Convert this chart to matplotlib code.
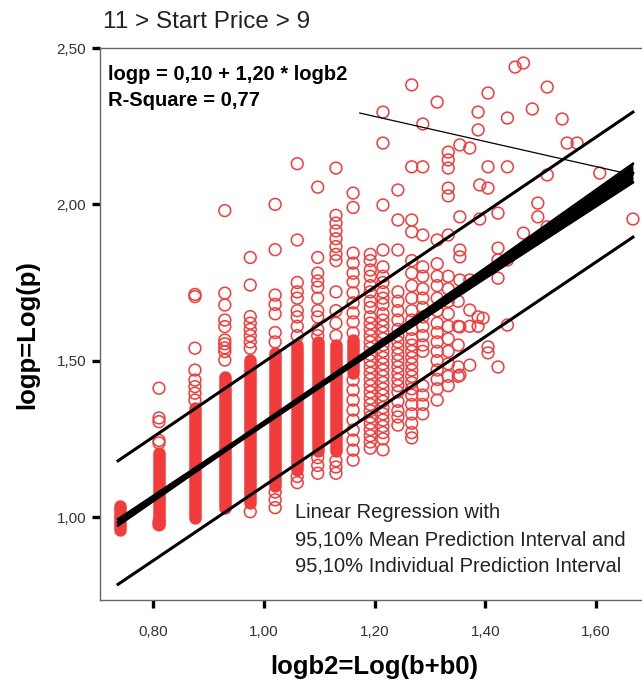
import numpy as np
import matplotlib
matplotlib.use("Agg")
import matplotlib.pyplot as plt
from matplotlib.ticker import FuncFormatter

plt.rcParams["font.family"] = ["Liberation Sans", "DejaVu Sans"]

RED = "#f23b3b"

# x position of each stacked column of observations
col_x = [0.739, 0.810, 0.875, 0.929, 0.975, 1.020, 1.060, 1.097, 1.130, 1.161,
         1.192, 1.215, 1.242, 1.267, 1.287, 1.313, 1.333, 1.351]
# range where the circles overlap into a solid band (None = no solid part)
col_dense_lo = [0.957, 0.978, 0.997, 1.030, 1.045, 1.100, 1.150, 1.210, 1.210, 1.461,
                None, None, None, None, None, None, None, None]
col_dense_hi = [1.034, 1.205, 1.349, 1.449, 1.502, 1.525, 1.550, 1.560, 1.550, 1.566,
                None, None, None, None, None, None, None, None]
# single circles in each column
col_rings = [
    [],
    [1.412, 1.317, 1.305, 1.245, 1.237, 0.985, 0.975],
    [1.712, 1.705, 1.540, 1.470, 1.438, 1.417, 1.396, 1.374],
    [1.980, 1.716, 1.678, 1.630, 1.609, 1.566, 1.554, 1.541, 1.529, 1.502],
    [1.830, 1.742, 1.641, 1.620, 1.600, 1.580, 1.560, 1.540, 1.017],
    [2.000, 1.855, 1.710, 1.680, 1.650, 1.590, 1.560, 1.080, 1.055, 1.030],
    [2.130, 1.886, 1.750, 1.720, 1.700, 1.660, 1.640, 1.610, 1.580, 1.130, 1.110],
    [2.055, 1.830, 1.780, 1.755, 1.735, 1.700, 1.660, 1.640, 1.600, 1.580,
     1.190, 1.165, 1.140],
    [2.116, 1.965, 1.940, 1.915, 1.890, 1.865, 1.840, 1.820, 1.720, 1.660,
     1.620, 1.580, 1.180, 1.160, 1.140],
    [2.036, 1.990, 1.844, 1.812, 1.780, 1.752, 1.717, 1.685, 1.653, 1.624,
     1.589, 1.438, 1.406, 1.374, 1.342, 1.310, 1.278, 1.246, 1.214, 1.182],
    [1.840, 1.820, 1.790, 1.770, 1.740, 1.720, 1.690, 1.670, 1.640, 1.620,
     1.600, 1.580, 1.560, 1.540, 1.520, 1.500, 1.480, 1.460, 1.440, 1.420,
     1.400, 1.380, 1.360, 1.340, 1.320, 1.300, 1.280, 1.260, 1.240, 1.220],
    [1.800, 1.770, 1.750, 1.720, 1.700, 1.680, 1.650, 1.630, 1.610, 1.590,
     1.570, 1.550, 1.530, 1.510, 1.490, 1.470, 1.450, 1.430, 1.410, 1.390,
     1.370, 1.350, 1.330, 1.310, 1.290, 1.270, 1.250, 1.215],
    [1.720, 1.690, 1.660, 1.630, 1.600, 1.580, 1.560, 1.540, 1.520, 1.500,
     1.480, 1.460, 1.440, 1.420, 1.400, 1.370, 1.340, 1.320, 1.294],
    [1.820, 1.780, 1.740, 1.700, 1.660, 1.630, 1.600, 1.570, 1.550, 1.530,
     1.510, 1.490, 1.470, 1.450, 1.430, 1.410, 1.390, 1.360, 1.330, 1.300,
     1.270, 1.253],
    [1.800, 1.770, 1.730, 1.700, 1.670, 1.640, 1.610, 1.580, 1.550, 1.530,
     1.420, 1.390, 1.360, 1.330],
    [1.810, 1.770, 1.740, 1.700, 1.660, 1.620, 1.590, 1.560, 1.530, 1.500,
     1.470, 1.440, 1.410, 1.374],
    [1.770, 1.730, 1.690, 1.650, 1.610, 1.570, 1.530, 1.490, 1.450, 1.420],
    [1.690, 1.610, 1.550, 1.480, 1.450],
]

# scattered observations away from the columns
pt_x = [1.454, 1.469, 1.512, 1.405, 1.267, 1.313, 1.215, 1.387, 1.485, 1.440,
        1.539, 1.287, 1.387, 1.215, 1.354, 1.372, 1.333, 1.333, 1.333, 1.548,
        1.566, 1.267, 1.287, 1.405, 1.440, 1.512, 1.607, 1.242, 1.333, 1.333,
        1.390, 1.405, 1.215, 1.495, 1.495, 1.512, 1.667, 1.242, 1.267, 1.267,
        1.287, 1.313, 1.333, 1.354, 1.390, 1.423, 1.469, 1.423, 1.423, 1.440,
        1.354, 1.354, 1.372, 1.423, 1.354, 1.372, 1.387, 1.396, 1.372, 1.387,
        1.354, 1.440, 1.405, 1.405, 1.372, 1.423, 1.354, 1.215, 1.242]
pt_y = [2.439, 2.452, 2.375, 2.356, 2.382, 2.327, 2.295, 2.295, 2.305, 2.276,
        2.273, 2.257, 2.238, 2.196, 2.190, 2.180, 2.167, 2.142, 2.116, 2.196,
        2.196, 2.120, 2.120, 2.120, 2.120, 2.094, 2.100, 2.046, 2.052, 2.027,
        2.062, 2.052, 1.998, 2.004, 1.960, 1.928, 1.953, 1.950, 1.950, 1.912,
        1.902, 1.886, 1.902, 1.960, 1.953, 1.972, 1.908, 1.860, 1.822, 1.822,
        1.854, 1.832, 1.758, 1.764, 1.758, 1.662, 1.640, 1.636, 1.610, 1.610,
        1.608, 1.614, 1.544, 1.525, 1.486, 1.480, 1.454, 1.854, 1.854]

# regression line and intervals
fit_x = [0.736, 1.667]
fit_y = [0.983, 2.100]
pi_upper = [1.180, 2.295]
pi_lower = [0.785, 1.895]
ci_x = [0.736, 0.950, 1.150, 1.400, 1.667]
ci_half = [0.010, 0.005, 0.007, 0.016, 0.030]
stray_x = [1.173, 1.667]
stray_y = [2.292, 2.094]

W, H = 642, 689
fig = plt.figure(figsize=(W / 100, H / 100), dpi=100)
ax = fig.add_axes([100 / W, 1 - 600 / H, 1 - 100 / W, 552 / H])

for x, lo, hi in zip(col_x, col_dense_lo, col_dense_hi):
    if lo is not None:
        ax.plot([x, x], [lo, hi], color=RED, lw=9.0, solid_capstyle="round", zorder=2)

rx = [x for x, ys in zip(col_x, col_rings) for _ in ys]
ry = [y for ys in col_rings for y in ys]
ax.scatter(rx + pt_x, ry + pt_y, s=72, facecolors="none", edgecolors=RED,
           linewidths=1.1, zorder=2)

ax.plot(fit_x, pi_upper, color="black", lw=2.2, zorder=3)
ax.plot(fit_x, pi_lower, color="black", lw=2.2, zorder=3)
ci_mid = np.interp(ci_x, fit_x, fit_y)
ci_hi = ci_mid + np.array(ci_half)
ci_lo = ci_mid - np.array(ci_half)
ax.fill_between(ci_x, ci_lo, ci_hi, color="black", lw=0, zorder=3)
ax.plot(ci_x, ci_hi, color="black", lw=1.8, zorder=3)
ax.plot(ci_x, ci_lo, color="black", lw=1.8, zorder=3)
ax.plot(fit_x, fit_y, color="black", lw=2.0, zorder=3)
ax.plot(stray_x, stray_y, color="black", lw=0.9, zorder=3)

ax.set_xlim(0.7033, 1.6834)
ax.set_ylim(0.7347, 2.50)
ax.set_xticks([0.8, 1.0, 1.2, 1.4, 1.6])
ax.set_yticks([1.0, 1.5, 2.0, 2.5])
comma = FuncFormatter(lambda v, _: f"{v:.2f}".replace(".", ","))
ax.xaxis.set_major_formatter(comma)
ax.yaxis.set_major_formatter(comma)
ax.tick_params(length=6, width=2.4, color="black", labelsize=11,
               labelcolor="#333333", pad=12)
ax.tick_params(axis="y", pad=4)
ax.spines["right"].set_visible(False)
for s in ("left", "bottom", "top"):
    ax.spines[s].set_color("#666666")
    ax.spines[s].set_linewidth(1.0)

fig.text(103 / W, 1 - 22 / H, "11 > Start Price > 9", fontsize=17.5,
         ha="left", va="center", color="#222222")
fig.text(108 / W, 1 - 74 / H, "logp = 0,10 + 1,20 * logb2", fontsize=14.5,
         fontweight="bold", ha="left", va="center")
fig.text(108 / W, 1 - 101 / H, "R-Square = 0,77", fontsize=14.5,
         fontweight="bold", ha="left", va="center")
for yy, line in zip([513, 540, 566], ["Linear Regression with",
                                      "95,10% Mean Prediction Interval and",
                                      "95,10% Individual Prediction Interval"]):
    fig.text(295 / W, 1 - yy / H, line, fontsize=14.5, ha="left", va="center",
             color="#222222")
fig.text(374 / W, 1 - 667 / H, "logb2=Log(b+b0)", fontsize=18.5,
         fontweight="bold", ha="center", va="center")
fig.text(27 / W, 1 - 335 / H, "logp=Log(p)", fontsize=18.5, fontweight="bold",
         ha="center", va="center", rotation=90)

fig.savefig("out.png", dpi=100)
